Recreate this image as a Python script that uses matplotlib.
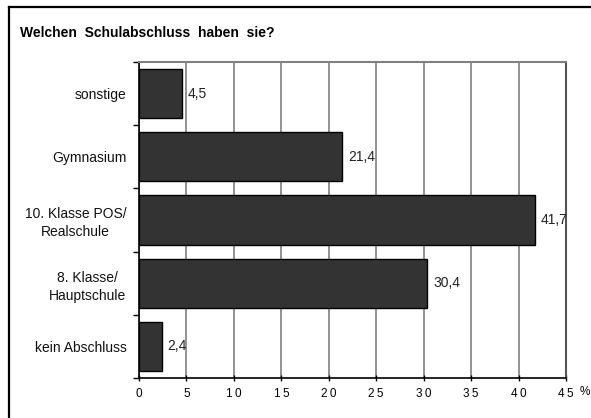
import matplotlib
matplotlib.use("Agg")
import matplotlib.pyplot as plt
from matplotlib.lines import Line2D

categories = ["kein Abschluss", "8. Klasse/\nHauptschule", "10. Klasse POS/\nRealschule", "Gymnasium", "sonstige"]
values = [2.4, 30.4, 41.7, 21.4, 4.5]
value_labels = ["2,4", "30,4", "41,7", "21,4", "4,5"]
xticks = [0, 5, 10, 15, 20, 25, 30, 35, 40, 45]

W, H = 591, 418
fig = plt.figure(figsize=(W / 100, H / 100), dpi=100)
plt.rcParams['font.family'] = ['Liberation Sans', 'DejaVu Sans']

ax = fig.add_axes([139 / W, 1 - 378 / H, (566 - 139) / W, (378 - 62) / H])
ypos = list(range(len(categories)))
ax.barh(ypos, values, height=0.78, color="#333333", edgecolor="black", linewidth=1.0, zorder=3)
ax.set_xlim(0, 45)
ax.set_ylim(-0.5, len(categories) - 0.5)
ax.set_xticks(xticks)
ax.set_xticklabels(["\u2009".join(str(t)) for t in xticks], fontsize=8.5)
ax.set_yticks(ypos)
ax.set_yticklabels(categories, fontsize=10, ha="right", multialignment="center", linespacing=1.35, color="#111111")
ax.yaxis.set_tick_params(length=0, pad=9)
ax.set_yticks([i - 0.5 for i in range(len(categories) + 1)], minor=True)
ax.yaxis.set_tick_params(which="minor", length=4, width=1, direction="out")
ax.xaxis.set_tick_params(length=4, width=1, direction="inout", pad=5)
ax.grid(axis="x", color="#808080", linewidth=1.2, zorder=0)
for s in ["top", "right"]:
    ax.spines[s].set_color("#808080")
    ax.spines[s].set_linewidth(1.5)
ax.spines["right"].set_color("#555555")
for s in ["left", "bottom"]:
    ax.spines[s].set_color("black")
    ax.spines[s].set_linewidth(1.2)

for y, v, lab in zip(ypos, values, value_labels):
    ax.text(v + 0.6, y, lab, va="center", ha="left", fontsize=10, color="#222222")

fig.text(20 / W, 1 - 33 / H, "Welchen  Schulabschluss  haben  sie?", fontsize=10, fontweight="bold", va="center", ha="left")
fig.text(580 / W, 1 - 392 / H, "%", fontsize=8.5, va="center", ha="left")

fig.add_artist(Line2D([8.5 / W, 8.5 / W], [0, 1 - 7 / H], color="black", linewidth=1.6, transform=fig.transFigure))
fig.add_artist(Line2D([8.5 / W, 1], [1 - 7 / H, 1 - 7 / H], color="black", linewidth=1.6, transform=fig.transFigure))

fig.savefig("out.png", dpi=100)
